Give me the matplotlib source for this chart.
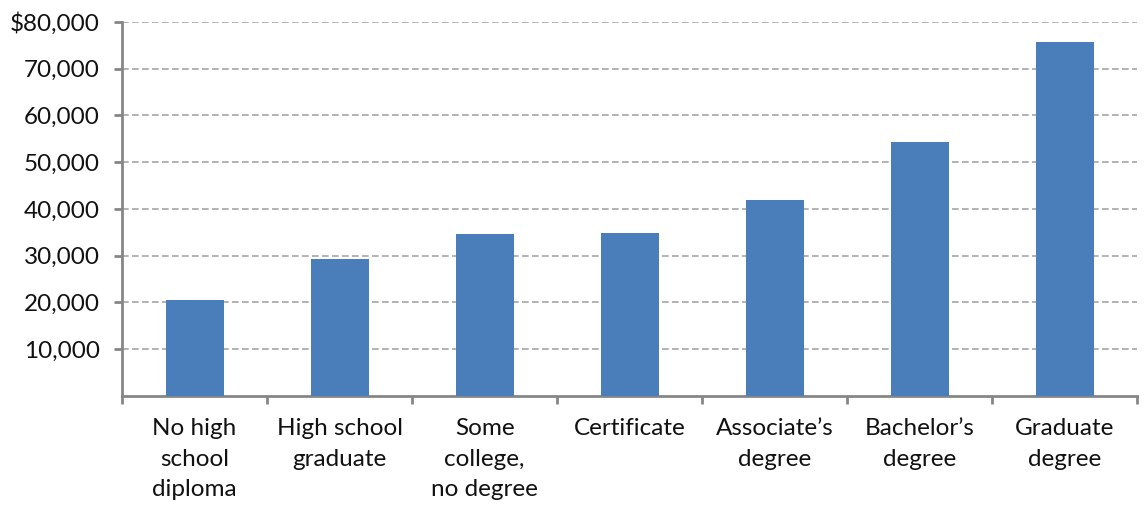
import matplotlib
matplotlib.use("Agg")
import matplotlib.pyplot as plt
import numpy as np
from matplotlib.ticker import FuncFormatter

categories = ["No high\nschool\ndiploma", "High school\ngraduate", "Some\ncollege,\nno degree",
              "Certificate", "Associate\u2019s\ndegree", "Bachelor\u2019s\ndegree", "Graduate\ndegree"]
earnings = [20550, 29300, 34600, 34900, 41850, 54400, 75650]
yticks = [10000, 20000, 30000, 40000, 50000, 60000, 70000, 80000]

plt.rcParams['font.family'] = ['Lato', 'DejaVu Sans']

fig = plt.figure(figsize=(11.46, 5.07), dpi=100)
ax = fig.add_axes([0.1065, 0.219, 0.886, 0.738])

x = np.arange(len(categories))
ax.bar(x, earnings, width=0.4, color="#4a7ebb", zorder=3)

ax.set_xlim(-0.5, len(categories) - 0.5)
ax.set_ylim(0, 80000)
ax.set_yticks(yticks)
ax.yaxis.set_major_formatter(FuncFormatter(lambda v, p: ("$" if v == 80000 else "") + f"{int(v):,}"))
ax.yaxis.grid(True, linestyle=(0, (4, 2)), color="#a6a6a6", linewidth=1.2, zorder=0)

ax.set_xticks(np.arange(len(categories) + 1) - 0.5)
ax.set_xticklabels([])
ax.set_xticks(x, minor=True)
ax.set_xticklabels(categories, minor=True, fontsize=17.5, color="#111111", linespacing=1.55)
ax.tick_params(axis='x', which='minor', length=0, pad=16)
ax.tick_params(axis='x', which='major', length=6, width=2, color="#868686", direction='out')
ax.tick_params(axis='y', length=6, width=2, color="#868686", labelsize=17.5, labelcolor="#111111", pad=10)

for s in ["top", "right"]:
    ax.spines[s].set_visible(False)
for s in ["left", "bottom"]:
    ax.spines[s].set_color("#868686")
    ax.spines[s].set_linewidth(2)

fig.savefig("out.png", dpi=100)
